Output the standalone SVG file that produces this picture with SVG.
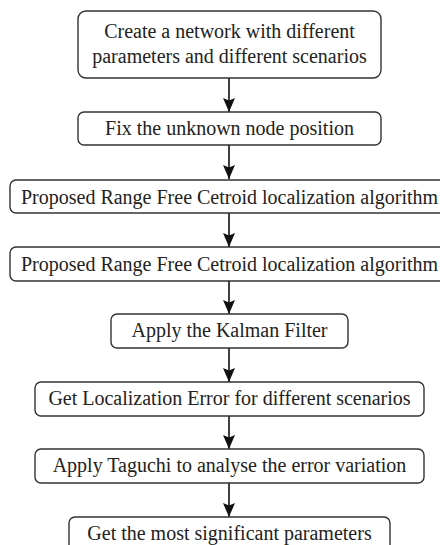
<svg xmlns="http://www.w3.org/2000/svg" width="440" height="545" viewBox="0 0 440 545">
<defs>
<style>
.box{fill:#fff;stroke:#333;stroke-width:1.4}
.t{font-family:"Liberation Serif","Times New Roman",serif;font-size:20px;fill:#222;text-anchor:middle}
.c{stroke:#111;stroke-width:1.6;fill:none;marker-end:url(#ah)}
</style>
<marker id="ah" viewBox="0 0 14 12" refX="14" refY="6" markerWidth="14" markerHeight="12" markerUnits="userSpaceOnUse" orient="auto">
<path d="M0,0 L14,6 L0,12 L2.5,6 Z" fill="#111"/>
</marker>
</defs>
<rect width="440" height="545" fill="#fff"/>
<g id="connectors">
<line class="c" x1="229" y1="78" x2="229" y2="112"/>
<line class="c" x1="229" y1="145" x2="229" y2="179"/>
<line class="c" x1="229" y1="213" x2="229" y2="247"/>
<line class="c" x1="229" y1="281" x2="229" y2="314"/>
<line class="c" x1="229" y1="348" x2="229" y2="382"/>
<line class="c" x1="229" y1="416" x2="229" y2="449"/>
<line class="c" x1="229" y1="483" x2="229" y2="517"/>
</g>
<g id="n1"><rect class="box" x="78" y="11" width="303" height="67" rx="8"/>
<text class="t" x="229.5" y="38">Create a network with different</text>
<text class="t" x="229.5" y="63">parameters and different scenarios</text></g>
<g id="n2"><rect class="box" x="78" y="112" width="303" height="33" rx="6"/>
<text class="t" x="229.5" y="135">Fix the unknown node position</text></g>
<g id="n3"><rect class="box" x="10" y="180" width="439" height="33" rx="6"/>
<text class="t" x="229.5" y="204">Proposed Range Free Cetroid localization algorithm</text></g>
<g id="n4"><rect class="box" x="10" y="247" width="439" height="34" rx="6"/>
<text class="t" x="229.5" y="271">Proposed Range Free Cetroid localization algorithm</text></g>
<g id="n5"><rect class="box" x="111" y="314" width="237" height="34" rx="6"/>
<text class="t" x="229.5" y="337">Apply the Kalman Filter</text></g>
<g id="n6"><rect class="box" x="35" y="382" width="389" height="34" rx="6"/>
<text class="t" x="229.5" y="405">Get Localization Error for different scenarios</text></g>
<g id="n7"><rect class="box" x="35" y="449" width="389" height="34" rx="6"/>
<text class="t" x="229.5" y="472">Apply Taguchi to analyse the error variation</text></g>
<g id="n8"><rect class="box" x="69" y="517" width="321" height="34" rx="6"/>
<text class="t" x="229.5" y="540">Get the most significant parameters</text></g>
</svg>
